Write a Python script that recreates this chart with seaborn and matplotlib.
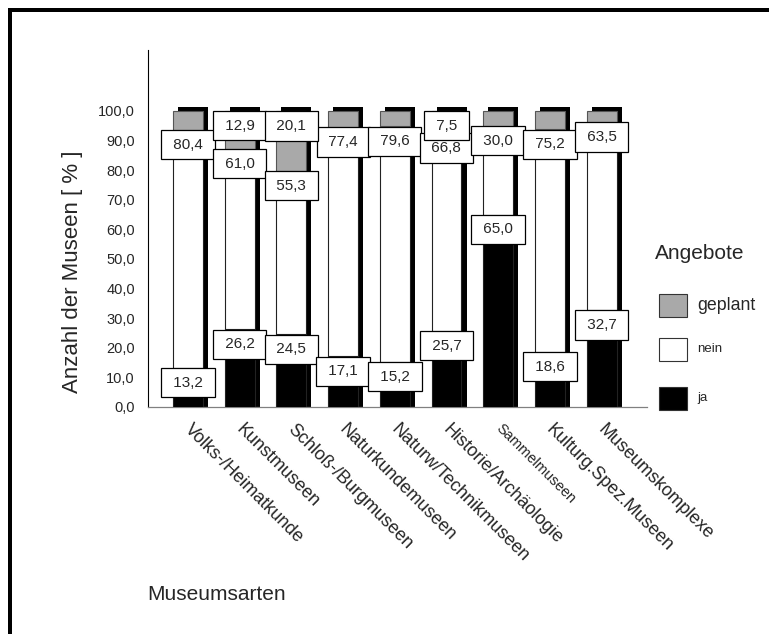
import numpy as np
import pandas as pd
import matplotlib
matplotlib.use("Agg")
import matplotlib.pyplot as plt
from matplotlib.patches import Rectangle
from matplotlib.transforms import ScaledTranslation
import seaborn as sns

# ---- data ----
categories = ["Volks-/Heimatkunde", "Kunstmuseen", "Schloß-/Burgmuseen",
              "Naturkundemuseen", "Naturw/Technikmuseen", "Historie/Archäologie",
              "Sammelmuseen", "Kulturg.Spez.Museen", "Museumskomplexe"]
ja = [13.2, 26.2, 24.5, 17.1, 15.2, 25.7, 65.0, 18.6, 32.7]
nein = [80.4, 61.0, 55.3, 77.4, 79.6, 66.8, 30.0, 75.2, 63.5]
geplant = [6.4, 12.9, 20.1, 5.5, 5.2, 7.5, 5.0, 6.2, 3.8]
geplant_label_shown = [False, True, True, False, False, True, False, False, False]
y_ticks = [0, 10, 20, 30, 40, 50, 60, 70, 80, 90, 100]
y_tick_labels = ["0,0", "10,0", "20,0", "30,0", "40,0", "50,0", "60,0",
                 "70,0", "80,0", "90,0", "100,0"]
legend_labels = ["geplant", "nein", "ja"]

sns.set_style("white")
plt.rcParams["font.family"] = ["Liberation Sans", "DejaVu Sans"]

W, H = 769, 634
fig = plt.figure(figsize=(W / 100, H / 100), dpi=100)
fig.patch.set_facecolor("white")

def px_x(x):
    return x / W

def px_y(y):
    return 1 - y / H

ax = fig.add_axes([px_x(148), px_y(407), (647 - 148) / W, (407 - 50) / H])

df = pd.DataFrame({"cat": categories, "ja": ja, "nein": nein, "geplant": geplant})
ja_a = np.array(ja)
nein_a = np.array(nein)
gep_a = np.array(geplant)
total = ja_a + nein_a + gep_a
xpos = np.arange(len(categories))
bw = 0.58
grey = "#a9a9a9"

# shadow (3D-like offset)
ax.bar(xpos + 0.097, total + 1.35, width=bw, color="black", zorder=2, linewidth=0)

sns.barplot(data=df, x="cat", y="ja", color="black", saturation=1, width=bw,
            edgecolor="#222222", linewidth=0.8, ax=ax, zorder=3)
sns.barplot(data=df, x="cat", y="nein", bottom=ja_a, color="white", saturation=1,
            width=bw, edgecolor="#222222", linewidth=0.8, ax=ax, zorder=3)
sns.barplot(data=df, x="cat", y="geplant", bottom=ja_a + nein_a, color=grey,
            saturation=1, width=bw, edgecolor="#555555", linewidth=0.8, ax=ax, zorder=3)

def fmt(v):
    return f" {v:.1f} ".replace(".", ",")

box = dict(boxstyle="square,pad=0.5", facecolor="white", edgecolor="black", linewidth=0.9)
for i in range(len(categories)):
    ax.text(xpos[i], ja_a[i] - 5, fmt(ja_a[i]), ha="center", va="center",
            fontsize=11, bbox=box, zorder=5)
    ax.text(xpos[i], ja_a[i] + nein_a[i] - 5, fmt(nein_a[i]), ha="center", va="center",
            fontsize=11, bbox=box, zorder=5)
    if geplant_label_shown[i]:
        ax.text(xpos[i], total[i] - 5, fmt(gep_a[i]), ha="center", va="center",
                fontsize=11, bbox=box, zorder=6)

ax.set_xlim((148 - 188) / 51.7, (647 - 188) / 51.7)
ax.set_ylim(0, (407 - 50) / 2.96)
ax.set_yticks(y_ticks)
ax.set_yticklabels(y_tick_labels, fontsize=10.5)
ax.set_xticks(xpos)
ax.set_xticklabels([])

# rotated category labels, anchored just below each tick
lab_tr = ax.get_xaxis_transform() + ScaledTranslation(5 / 100, -14 / 100, fig.dpi_scale_trans)
for i, name in enumerate(categories):
    ax.text(xpos[i], 0, name, transform=lab_tr, rotation=-45, ha="left", va="top",
            rotation_mode="anchor", fontsize=10.5 if name == "Sammelmuseen" else 13,
            clip_on=False)

ax.tick_params(axis="y", direction="out", length=2.4, width=2.6, color="black", pad=7)
ax.tick_params(axis="x", direction="out", length=2.9, width=2.2, color="black", pad=7)
ax.set_xlabel("")
ax.set_ylabel("Anzahl der Museen [ % ]", fontsize=16)
ax.yaxis.set_label_coords((83 - 148) / 499, (407 - 272) / 357)

for s in ["top", "right"]:
    ax.spines[s].set_visible(False)
ax.spines["left"].set_color("black")
ax.spines["left"].set_linewidth(0.8)
ax.spines["bottom"].set_color("#808080")
ax.spines["bottom"].set_linewidth(0.9)
ax.set_facecolor("white")
ax.grid(False)

fig.text(px_x(147), px_y(595), "Museumsarten", ha="left", va="center", fontsize=15)
fig.text(px_x(655), px_y(254), "Angebote", ha="left", va="center", fontsize=15)

leg_colors = [grey, "white", "black"]
leg_tops = [294, 338, 387]
leg_sizes = [12.8, 9.5, 9.5]
for c, t, lab, fs in zip(leg_colors, leg_tops, legend_labels, leg_sizes):
    fig.add_artist(Rectangle((px_x(659), px_y(t + 23)), 28 / W, 23 / H,
                             transform=fig.transFigure, facecolor=c,
                             edgecolor="#333333", linewidth=0.8))
    fig.text(px_x(697), px_y(t + 11.5), lab, ha="left", va="center", fontsize=fs)

# page frame (top and left edges)
fig.add_artist(Rectangle((px_x(8), px_y(12)), 1 - px_x(8), 4 / H,
                         transform=fig.transFigure, facecolor="black", edgecolor="none"))
fig.add_artist(Rectangle((px_x(8), 0), 4 / W, px_y(8),
                         transform=fig.transFigure, facecolor="black", edgecolor="none"))

fig.savefig("out.png", dpi=100, facecolor="white")
